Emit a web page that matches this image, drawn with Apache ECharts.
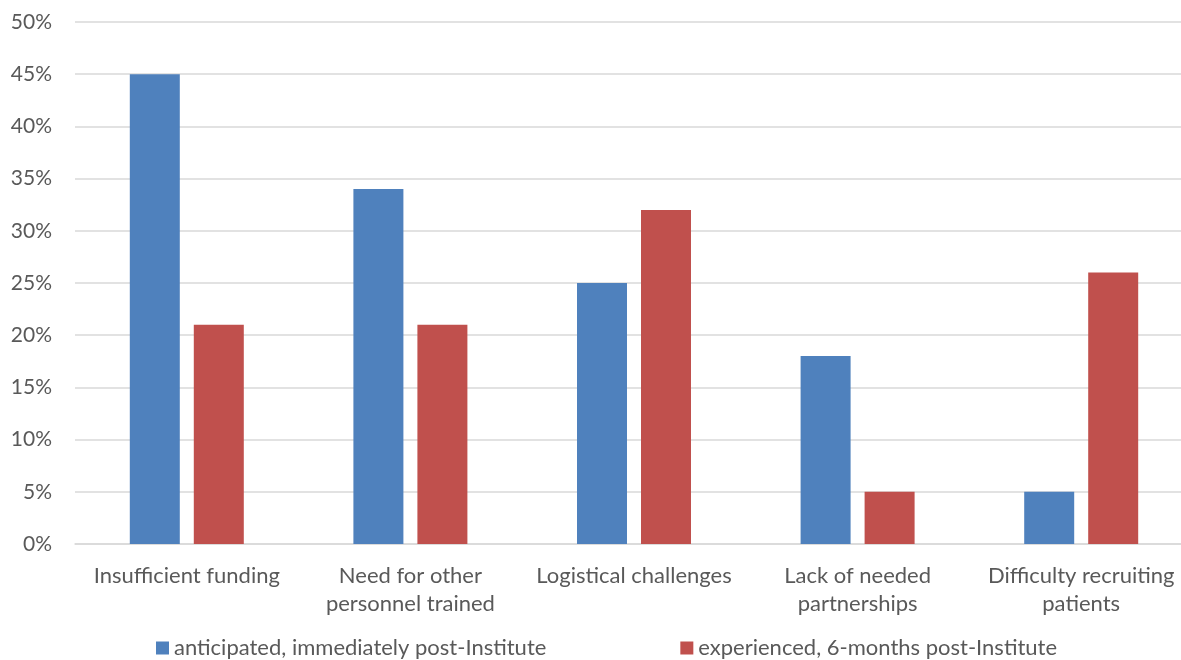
<!DOCTYPE html>
<html>
<head>
<meta charset="utf-8">
<script src="https://cdn.jsdelivr.net/npm/echarts@6/dist/echarts.min.js"></script>
<style>
  html, body { margin: 0; padding: 0; background: #fff; overflow: hidden; width: 1181px; height: 660px; }
  #chart { width: 1193px; height: 660px; }
</style>
</head>
<body>
<div id="chart"></div>
<script>
// categories and values (percent)
var categories = [
  'Insufficient funding',
  'Need for other\npersonnel trained',
  'Logistical challenges',
  'Lack of needed\npartnerships',
  'Difficulty recruiting\npatients'
];
var anticipated = [45, 34, 25, 18, 5];
var experienced = [21, 21, 32, 5, 26];
var seriesNames = ['anticipated, immediately post-Institute', 'experienced, 6-months post-Institute'];

var font = 'Lato, "Noto Sans", sans-serif';
var chart = echarts.init(document.getElementById('chart'));
chart.setOption({
  animation: false,
  color: ['#4F81BD', '#C0504D'],
  grid: { left: 75, right: 0, top: 22, bottom: 116 },
  legend: {
    left: 151,
    bottom: -4,
    itemWidth: 13,
    itemHeight: 13,
    itemGap: 134,
    icon: 'rect',
    textStyle: { fontFamily: font, fontSize: 22, color: '#595959' },
    data: seriesNames
  },
  xAxis: {
    type: 'category',
    data: categories,
    axisTick: { show: false },
    axisLine: { lineStyle: { color: '#D9D9D9', width: 1.5 } },
    axisLabel: {
      interval: 0,
      margin: 18,
      lineHeight: 28,
      fontFamily: font,
      fontSize: 22,
      color: '#595959'
    }
  },
  yAxis: {
    type: 'value',
    min: 0,
    max: 50,
    interval: 5,
    axisLine: { show: false },
    axisTick: { show: false },
    splitLine: { lineStyle: { color: '#D9D9D9', width: 1.5 } },
    axisLabel: {
      margin: 23,
      formatter: '{value}%',
      fontFamily: font,
      fontSize: 21,
      color: '#595959'
    }
  },
  series: [
    { name: seriesNames[0], type: 'bar', data: anticipated, barWidth: 50, barGap: '28%' },
    { name: seriesNames[1], type: 'bar', data: experienced, barWidth: 50, barGap: '28%' }
  ]
});
</script>
</body>
</html>
